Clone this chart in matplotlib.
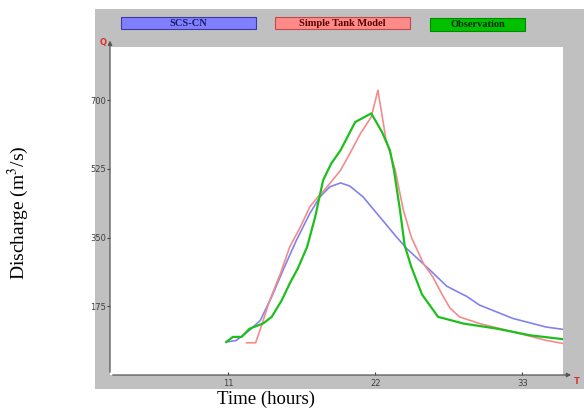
import matplotlib.pyplot as plt
from matplotlib.patches import Rectangle

plt.rcParams['mathtext.fontset'] = 'stix'

# SCS-CN
scs_t = [10.85, 11.6, 12.6, 13.4, 14.25, 15.1, 16.1, 17.1, 17.85, 18.6, 19.4, 20.1,
         21.1, 22.35, 23.6, 24.35, 26.1, 27.35, 28.85, 29.8, 32.3, 34.8, 36.1]
scs_q = [84, 88, 114, 139, 199, 267, 343, 411, 453, 479, 489, 481,
         453, 402, 351, 322, 267, 226, 200, 178, 144, 122, 116]

# Simple Tank Model
tank_t = [12.38, 13.05, 13.5, 14.1, 14.9, 15.6, 16.4, 17.1, 17.7, 18.3, 19.4, 20.1,
          20.9, 21.7, 22.2, 22.8, 23.5, 24.1, 24.7, 25.6, 26.3, 27.1, 27.6, 28.3,
          29.8, 32.3, 34.8, 36.1]
tank_q = [82, 82, 127, 190, 258, 326, 377, 428, 453, 475, 521, 564,
          615, 657, 725, 600, 521, 420, 351, 284, 250, 199, 170, 148,
          131, 110, 88, 80]

# Observation
obs_t = [10.85, 11.35, 12.0, 12.6, 13.6, 14.25, 15.0, 15.6, 16.2, 16.9, 17.5, 18.1,
         18.7, 19.4, 20.5, 21.7, 22.5, 23.1, 23.4, 23.85, 24.2, 24.7, 25.5, 26.7,
         28.6, 31.1, 33.6, 36.1]
obs_q = [84, 97, 97, 118, 131, 148, 190, 233, 271, 326, 402, 496,
         538, 572, 644, 666, 619, 572, 521, 420, 330, 275, 205, 148,
         131, 118, 101, 91]

x_ticks = [11, 22, 33]
y_ticks = [175, 350, 525, 700]

W, H = 584, 409


def fx(px):
    return px / W


def fy(py):
    return 1 - py / H


fig = plt.figure(figsize=(5.84, 4.09), dpi=100)
fig.patch.set_facecolor('white')

# grey panel behind the plot
fig.add_artist(Rectangle((fx(95), fy(389)), fx(584) - fx(95), fy(9) - fy(389),
                         transform=fig.transFigure, facecolor='#c0c0c0',
                         edgecolor='none', zorder=0))

ax = fig.add_axes([fx(110), fy(375), fx(563) - fx(110), fy(47) - fy(375)])
ax.set_facecolor('white')
ax.plot(scs_t, scs_q, color='#8282ee', lw=1.2)
ax.plot(tank_t, tank_q, color='#f28c8c', lw=1.2)
ax.plot(obs_t, obs_q, color='#1cbf1c', lw=1.6)

ax.set_xlim(2.15, 36.05)
ax.set_ylim(0, 835)
ax.set_xticks(x_ticks)
ax.set_yticks(y_ticks)
ax.tick_params(axis='y', labelsize=6, colors='#404040', length=2, direction='out', pad=1)
ax.tick_params(axis='x', labelsize=6, colors='#404040', length=2, direction='in', pad=3)
for s in ax.spines.values():
    s.set_visible(False)

# axes with arrow heads
ax.annotate('', xy=(0, 1.028), xytext=(0, 0), xycoords='axes fraction',
            arrowprops=dict(arrowstyle='-|>', color='#555555', lw=0.9, mutation_scale=6),
            annotation_clip=False)
ax.annotate('', xy=(1.024, 0), xytext=(0, 0), xycoords='axes fraction',
            arrowprops=dict(arrowstyle='-|>', color='#555555', lw=0.9, mutation_scale=6),
            annotation_clip=False)
fig.text(fx(103), fy(43), 'Q', color='#e03030', fontsize=6, fontweight='bold',
         ha='center', va='center')
fig.text(fx(577), fy(381), 'T', color='#e03030', fontsize=6, fontweight='bold',
         ha='center', va='center')

# legend boxes
legend = [('SCS-CN', 121, 256, 17, 29, '#8080ff', '#3a3aa0', '#1a1a66'),
          ('Simple Tank Model', 275, 410, 17, 29, '#ff8a8a', '#c04a4a', '#5a0000'),
          ('Observation', 430, 525, 18, 31, '#00c000', '#008a00', '#002a00')]
for label, x0, x1, y0, y1, fc, ec, tc in legend:
    fig.add_artist(Rectangle((fx(x0), fy(y1)), fx(x1) - fx(x0), fy(y0) - fy(y1),
                             transform=fig.transFigure, facecolor=fc, edgecolor=ec,
                             lw=0.8, zorder=1))
    fig.text(fx((x0 + x1) / 2), fy((y0 + y1) / 2), label, color=tc, fontsize=7.5,
             fontweight='bold', family='Liberation Serif', ha='center', va='center')

fig.text(fx(18), fy(213), 'Discharge (m$^3$/s)', rotation=90, fontsize=14,
         family='Liberation Serif', ha='center', va='center')
fig.text(fx(266), fy(404), 'Time (hours)', fontsize=13.5, family='Liberation Serif',
         ha='center', va='baseline')

fig.savefig('out.png', dpi=100)
